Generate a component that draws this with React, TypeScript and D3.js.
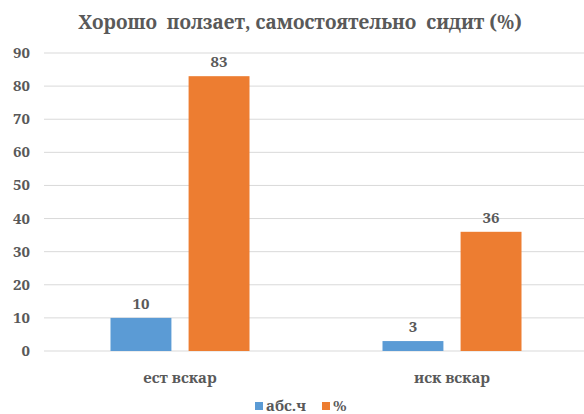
import React from "react";
import * as d3 from "d3";

const categories = ["ест вскар", "иск вскар"];
const seriesNames = ["абс.ч", "%"];
const absValues = [10, 3];
const pctValues = [83, 36];
const yTicks = [0, 10, 20, 30, 40, 50, 60, 70, 80, 90];
const title = "Хорошо  ползает, самостоятельно  сидит (%)";
const colors = ["#5B9BD5", "#ED7D31"];

const W = 584;
const H = 414;
const FONT = "'Noto Serif', 'Liberation Serif', serif";
const TXT = "#595959";

const txt = (size: number): React.CSSProperties => ({
  fontFamily: FONT,
  fontWeight: "bold",
  fontSize: size,
  whiteSpace: "pre",
});

export default function App() {
  const x0 = d3.scaleBand<string>().domain(categories).range([44, 588]).padding(0);
  const step = x0.bandwidth();
  const x1 = d3
    .scaleBand<string>()
    .domain(seriesNames)
    .range([(step - 139) / 2, (step + 139) / 2])
    .paddingInner(0.22);
  const y = d3.scaleLinear().domain([0, 90]).range([351, 53]);
  const seriesValues = [absValues, pctValues];

  return (
    <svg
      width={W}
      height={H}
      style={{ position: "absolute", left: 0, top: 0, background: "#fff" }}
    >
      <rect x={0} y={0} width={W} height={H} fill="#fff" />
      <text x={300} y={29} textAnchor="middle" fill={TXT} style={txt(19)}>
        {title}
      </text>
      {yTicks.map((t) => (
        <g key={t}>
          <line x1={44} x2={588} y1={y(t)} y2={y(t)} stroke="#D9D9D9" strokeWidth={1} />
          <text x={30} y={y(t) + 5} textAnchor="end" fill={TXT} style={txt(15)}>
            {t}
          </text>
        </g>
      ))}
      {categories.map((c, ci) => (
        <g key={c} transform={`translate(${x0(c)},0)`}>
          {seriesNames.map((s, si) => {
            const v = seriesValues[si][ci];
            const bx = x1(s)!;
            const bw = x1.bandwidth();
            return (
              <g key={s}>
                <rect x={bx} y={y(v)} width={bw} height={y(0) - y(v)} fill={colors[si]} />
                <text x={bx + bw / 2} y={y(v) - 9} textAnchor="middle" fill={TXT} style={txt(15)}>
                  {v}
                </text>
              </g>
            );
          })}
          <text x={step / 2} y={383} textAnchor="middle" fill={TXT} style={txt(15)}>
            {c}
          </text>
        </g>
      ))}
      <g>
        <rect x={255} y={402} width={8} height={8} fill={colors[0]} />
        <text x={266} y={411} fill={TXT} style={txt(15)}>
          {seriesNames[0]}
        </text>
        <rect x={322} y={402} width={8} height={8} fill={colors[1]} />
        <text x={333} y={411} fill={TXT} style={txt(15)}>
          {seriesNames[1]}
        </text>
      </g>
    </svg>
  );
}
